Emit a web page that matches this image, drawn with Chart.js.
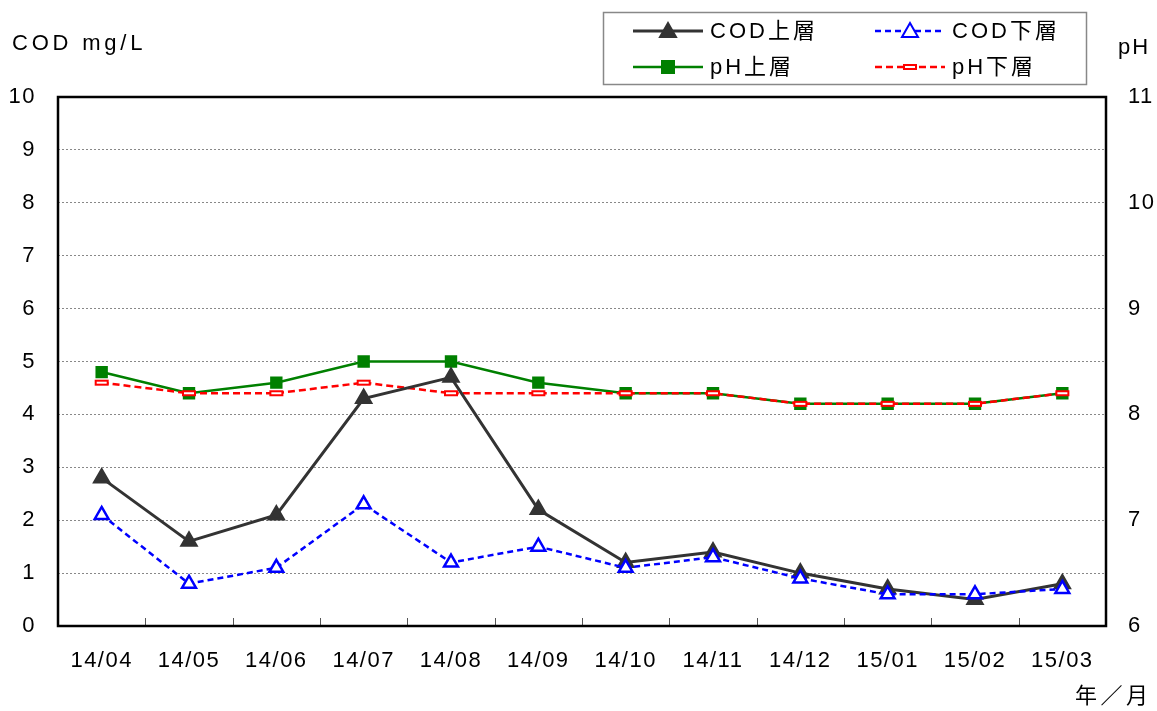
<!DOCTYPE html>
<html>
<head>
<meta charset="utf-8">
<script src="https://cdn.jsdelivr.net/npm/chart.js@4"></script>
<style>
  html, body { margin: 0; padding: 0; background: #fff; }
  #wrap { width: 1157px; height: 711px; position: relative; }
</style>
</head>
<body>
<div id="wrap"><canvas id="chart" width="1157" height="711"></canvas></div>
<script>
// months along the x axis
const months = ["14/04", "14/05", "14/06", "14/07", "14/08", "14/09", "14/10", "14/11", "14/12", "15/01", "15/02", "15/03"];

// COD (left axis, mg/L)
const cod_upper = [2.8, 1.6, 2.1, 4.3, 4.7, 2.2, 1.2, 1.4, 1.0, 0.7, 0.5, 0.8];
const cod_lower = [2.1, 0.8, 1.1, 2.3, 1.2, 1.5, 1.1, 1.3, 0.9, 0.6, 0.6, 0.7];

// pH (right axis)
const ph_upper = [8.4, 8.2, 8.3, 8.5, 8.5, 8.3, 8.2, 8.2, 8.1, 8.1, 8.1, 8.2];
const ph_lower = [8.3, 8.2, 8.2, 8.3, 8.2, 8.2, 8.2, 8.2, 8.1, 8.1, 8.1, 8.2];

const FONT = "'Liberation Sans', 'Noto Sans CJK JP', sans-serif";

// small flat hollow red box used as the pH下層 marker
function flatBox() {
  const c = document.createElement('canvas');
  c.width = 16; c.height = 8;
  const g = c.getContext('2d');
  g.fillStyle = '#fff';
  g.fillRect(1, 1, 14, 6);
  g.strokeStyle = '#ff0000';
  g.lineWidth = 2;
  g.strokeRect(2, 2, 12, 4);
  return c;
}
const boxMarker = flatBox();

// the picture's text is set wide, so space the letters out a bit
const spacing = {
  id: 'spacing',
  beforeDraw(chart) {
    chart.ctx.letterSpacing = '1.5px';
  }
};

// frame, inside ticks, axis titles and legend box
const decor = {
  id: 'decor',
  afterDraw(chart) {
    const ctx = chart.ctx;
    const a = chart.chartArea;
    const x = chart.scales.x;
    ctx.save();

    // small tick marks between months, pointing up from the bottom
    ctx.strokeStyle = '#555';
    ctx.lineWidth = 1;
    for (let i = 0; i < months.length - 1; i++) {
      const px = Math.round((x.getPixelForValue(i) + x.getPixelForValue(i + 1)) / 2) + 0.5;
      ctx.beginPath();
      ctx.moveTo(px, a.bottom);
      ctx.lineTo(px, a.bottom - 8);
      ctx.stroke();
    }

    // plot frame
    ctx.strokeStyle = '#000';
    ctx.lineWidth = 2.5;
    ctx.strokeRect(a.left, a.top, a.right - a.left, a.bottom - a.top);

    // axis titles
    ctx.fillStyle = '#000';
    ctx.font = '22px ' + FONT;
    ctx.textBaseline = 'middle';
    ctx.textAlign = 'left';
    ctx.letterSpacing = '3.8px';
    ctx.fillText('COD mg/L', 12, 44);
    ctx.letterSpacing = '2px';
    ctx.fillText('pH', 1118, 48);
    ctx.letterSpacing = '3.5px';
    ctx.fillText('年／月', 1075, 697);

    // legend
    ctx.strokeStyle = '#888';
    ctx.lineWidth = 1.5;
    ctx.strokeRect(603.5, 12.5, 483, 72);
    const items = [
      [0, 633, 31], [1, 875, 31],
      [2, 633, 67], [3, 875, 67]
    ];
    items.forEach(([i, lx, ly]) => {
      const ds = chart.data.datasets[i];
      ctx.strokeStyle = ds.borderColor;
      ctx.lineWidth = ds.borderWidth;
      ctx.setLineDash(ds.borderDash || []);
      ctx.beginPath();
      ctx.moveTo(lx, ly);
      ctx.lineTo(lx + 70, ly);
      ctx.stroke();
      ctx.setLineDash([]);
      const cx = lx + 35;
      if (ds.pointStyle === 'triangle') {
        ctx.beginPath();
        ctx.moveTo(cx, ly - 8);
        ctx.lineTo(cx + 8, ly + 6);
        ctx.lineTo(cx - 8, ly + 6);
        ctx.closePath();
        ctx.fillStyle = ds.pointBackgroundColor;
        ctx.fill();
        ctx.strokeStyle = ds.pointBorderColor;
        ctx.lineWidth = 2;
        ctx.stroke();
      } else if (ds.pointStyle === 'rect') {
        ctx.fillStyle = ds.pointBackgroundColor;
        ctx.fillRect(cx - 7, ly - 7, 14, 14);
      } else {
        ctx.drawImage(boxMarker, cx - 8, ly - 4);
      }
      ctx.fillStyle = '#000';
      ctx.font = '22px ' + FONT;
      ctx.textAlign = 'left';
      ctx.letterSpacing = '3px';
      ctx.fillText(ds.label, lx + 77, ly + 1);
    });
    ctx.restore();
  }
};

new Chart(document.getElementById('chart'), {
  type: 'line',
  data: {
    labels: months,
    datasets: [
      {
        label: 'COD上層',
        data: cod_upper,
        yAxisID: 'y',
        borderColor: '#333333',
        borderWidth: 3,
        pointStyle: 'triangle',
        pointRadius: 8,
        pointBackgroundColor: '#333333',
        pointBorderColor: '#333333',
        order: 2
      },
      {
        label: 'COD下層',
        data: cod_lower,
        yAxisID: 'y',
        borderColor: '#0000ff',
        borderWidth: 2.5,
        borderDash: [6, 4],
        pointStyle: 'triangle',
        pointRadius: 8,
        pointBorderWidth: 2.5,
        pointBackgroundColor: '#ffffff',
        pointBorderColor: '#0000ff',
        order: 1
      },
      {
        label: 'pH上層',
        data: ph_upper,
        yAxisID: 'y1',
        borderColor: '#008000',
        borderWidth: 2.5,
        pointStyle: 'rect',
        pointRadius: 7,
        pointBackgroundColor: '#008000',
        pointBorderColor: '#008000',
        order: 4
      },
      {
        label: 'pH下層',
        data: ph_lower,
        yAxisID: 'y1',
        borderColor: '#ff0000',
        borderWidth: 2.5,
        borderDash: [7, 4],
        pointStyle: boxMarker,
        pointRadius: 6,
        order: 3
      }
    ]
  },
  options: {
    responsive: false,
    animation: false,
    layout: { padding: { top: 97, left: 0, right: 0, bottom: 0 } },
    plugins: {
      legend: { display: false },
      tooltip: { enabled: false }
    },
    scales: {
      x: {
        offset: true,
        grid: { display: false, drawTicks: false },
        border: { display: false },
        ticks: { color: '#000', font: { size: 22, family: FONT }, padding: 22, maxRotation: 0 },
        afterFit(s) { s.height = 85; }
      },
      y: {
        position: 'left',
        min: 0,
        max: 10,
        ticks: { stepSize: 1, color: '#000', font: { size: 22, family: FONT }, padding: 22 },
        grid: { color: '#888', lineWidth: 1, drawTicks: false },
        // in v4 the grid lines take their dash from border.dash
        border: { display: false, dash: [2, 2] },
        afterFit(s) { s.width = 58; }
      },
      y1: {
        position: 'right',
        min: 6,
        max: 11,
        ticks: { stepSize: 1, color: '#000', font: { size: 22, family: FONT }, padding: 22 },
        grid: { drawOnChartArea: false, drawTicks: false },
        border: { display: false },
        afterFit(s) { s.width = 51; }
      }
    }
  },
  plugins: [spacing, decor]
});
</script>
</body>
</html>
